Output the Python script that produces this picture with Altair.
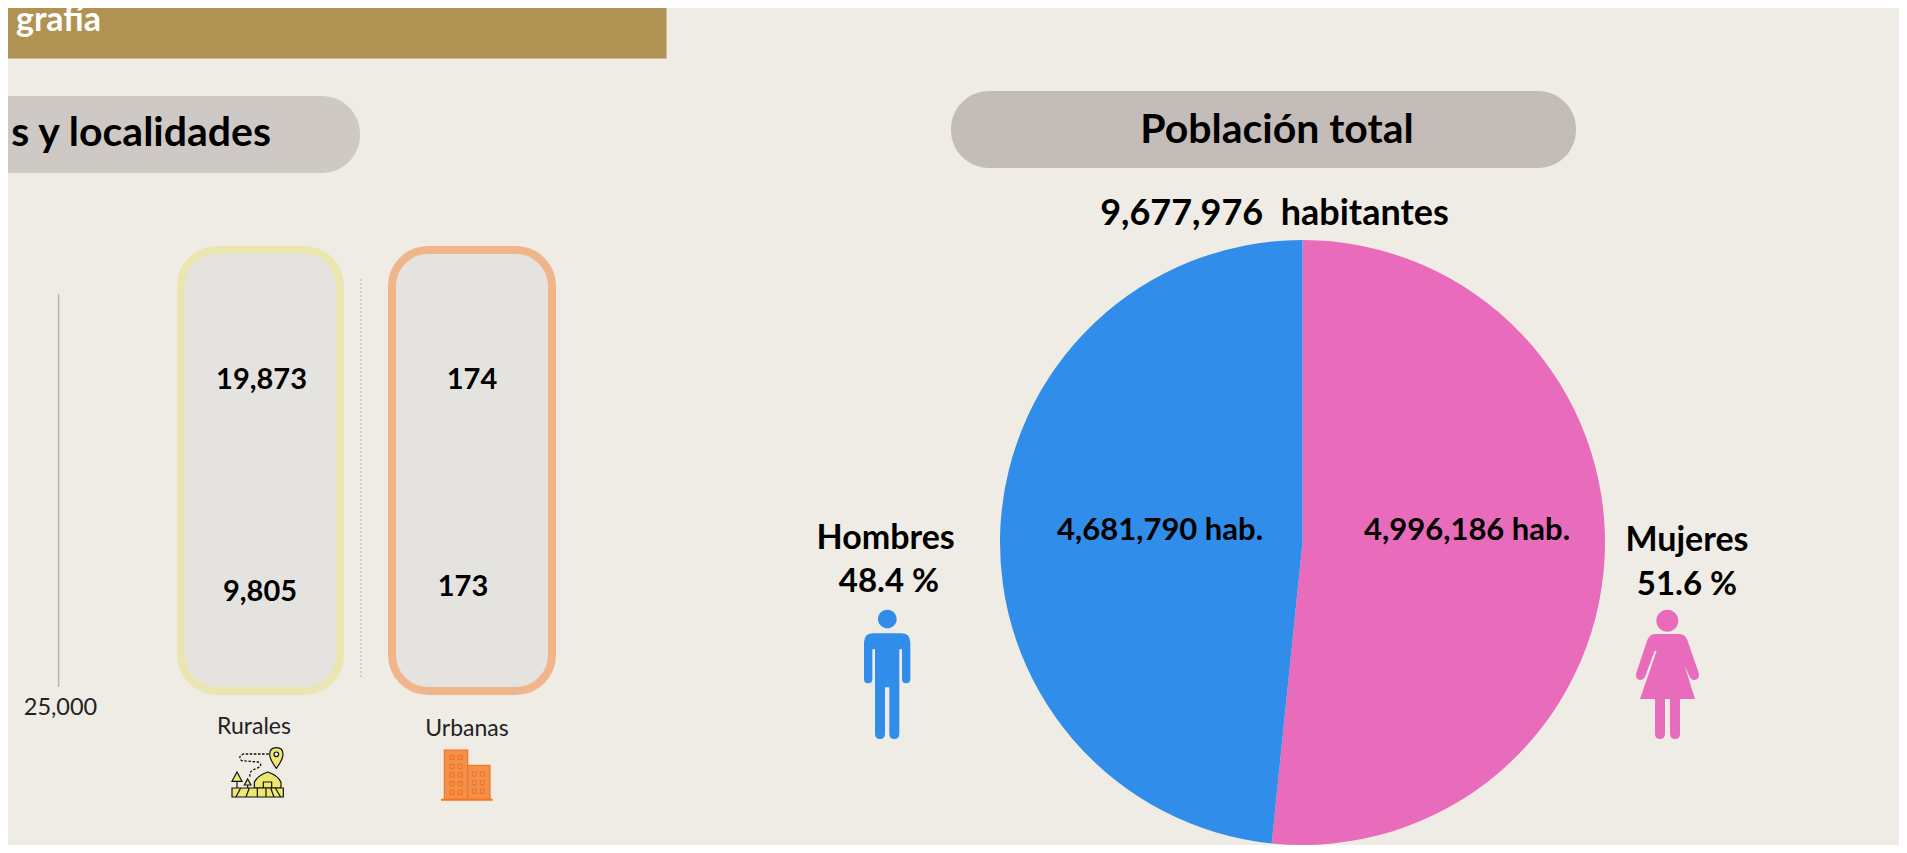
import altair as alt
import pandas as pd

# ---- data ----
generos = ["Mujeres", "Hombres"]
poblacion = [4996186, 4681790]
orden = [1, 2]
colores = ["#E96BBC", "#308DE9"]

W, H = 1891, 837
M = 8  # page margin: every position below is a page position, minus this
BG = "#EFECE5"
FONT = "Lato"


def path(cmds, cx, cy, h):
    """Normalise drawing commands to the [-1, 1] box that Vega custom symbols use."""
    out = []
    for c in cmds:
        op = c[0]
        if op == "Z":
            out.append("Z")
        elif op == "C":  # full circle: centre x, centre y, radius
            x, y, r = c[1:]
            X, Y, R = (x - cx) / h, (y - cy) / h, r / h
            out.append(f"M{X-R:.4f} {Y:.4f}A{R:.4f} {R:.4f} 0 1 0 {X+R:.4f} {Y:.4f}A{R:.4f} {R:.4f} 0 1 0 {X-R:.4f} {Y:.4f}Z")
        else:
            nums = []
            for i, v in enumerate(c[1:]):
                nums.append(f"{(v - (cx if i % 2 == 0 else cy)) / h:.4f}")
            out.append(op + " ".join(nums))
    return "".join(out)


def icon(cmds, cx, cy, h, ox, oy, scale=3, fill=None, stroke=None, sw=0, dash=None):
    L = 2 * h / scale
    kw = dict(shape=path(cmds, cx, cy, h), size=L * L, opacity=1)
    if fill:
        kw.update(filled=True, fill=fill)
    else:
        kw.update(filled=False, fill="transparent")
    if stroke:
        kw.update(stroke=stroke, strokeWidth=sw)
    else:
        kw.update(strokeWidth=0)
    if dash:
        kw.update(strokeDash=dash)
    return alt.Chart().mark_point(**kw).encode(
        x=alt.value(ox + cx / scale - M), y=alt.value(oy + cy / scale - M)
    )


def box(x, x2, y, y2, r=0, fill=None, stroke=None, sw=0):
    kw = dict(cornerRadius=r)
    if fill:
        kw["fill"] = fill
    else:
        kw["fillOpacity"] = 0
    if stroke:
        kw.update(stroke=stroke, strokeWidth=sw)
    return alt.Chart().mark_rect(**kw).encode(
        x=alt.value(x - M), x2=alt.value(x2 - M), y=alt.value(y - M), y2=alt.value(y2 - M)
    )


def label(t, x, y, size, bold=True, color="#000000", align="center"):
    return alt.Chart().mark_text(
        text=t, font=FONT, fontSize=size, fontWeight="bold" if bold else "normal",
        color=color, align=align, baseline="middle",
    ).encode(x=alt.value(x - M), y=alt.value(y - M))


layers = []
# banner and pills
layers.append(box(-20, 666.5, -20, 58.5, fill="#B09353"))
layers.append(box(-60, 360, 96, 173, r=38, fill="#CEC9C5"))
layers.append(box(951, 1576, 91, 168, r=38, fill="#C4BCB8"))
layers.append(label("grafía", 101, 21, 34, color="#FFFFFF", align="right"))
layers.append(label("s y localidades", 271, 134, 41, align="right"))
layers.append(label("Población total", 1277, 131, 41))

# locality panels
layers.append(alt.Chart().mark_rule(color="#B8B6B0", strokeWidth=1.5).encode(
    x=alt.value(58.6 - M), y=alt.value(294 - M), y2=alt.value(687 - M)))
layers.append(alt.Chart().mark_rule(color="#C9C7C3", strokeWidth=1.5, strokeDash=[2, 2]).encode(
    x=alt.value(361 - M), y=alt.value(279 - M), y2=alt.value(677 - M)))
layers.append(box(181, 340, 250, 691, r=36, fill="#E5E3DF", stroke="#E9E6B2", sw=8))
layers.append(box(392, 552, 250, 691, r=36, fill="#E5E3DF", stroke="#F0B58A", sw=8))
layers.append(label("25,000", 60.5, 708, 23.5, bold=False, color="#222222"))
layers.append(label("19,873", 261.5, 379.5, 29))
layers.append(label("174", 472, 379.5, 29))
layers.append(label("9,805", 260, 592, 29))
layers.append(label("173", 463, 587, 29))
layers.append(label("Rurales", 254, 727, 23, bold=False, color="#222222"))
layers.append(label("Urbanas", 467, 729, 23, bold=False, color="#222222"))

# rural icon
RX, RY, RH = 173, 217, 80
Y = "#EDE873"
K = "#111111"
rural_args = dict(cx=RX, cy=RY, h=RH, ox=200, oy=700)
layers.append(icon([("M", 229, 205), ("Q", 209, 178, 209, 163), ("Q", 209, 143, 229, 143),
                    ("Q", 249, 143, 249, 163), ("Q", 249, 178, 229, 205), ("Z",), ("C", 229, 163, 7)],
                   fill=Y, stroke=K, sw=1.2, **rural_args))
layers.append(icon([("M", 206, 162), ("L", 130, 162), ("Q", 112, 170, 125, 182), ("L", 175, 186),
                    ("Q", 192, 198, 168, 206), ("Q", 146, 212, 150, 230)],
                   stroke=K, sw=1.3, dash=[2.5, 1.6], **rural_args))
layers.append(icon([("M", 111, 216), ("L", 126, 244), ("L", 96, 244), ("Z",),
                    ("M", 143, 237), ("L", 153, 255), ("L", 133, 255), ("Z",)],
                   fill=Y, stroke=K, sw=1.2, **rural_args))
layers.append(icon([("M", 111, 244), ("L", 111, 264), ("M", 143, 255), ("L", 143, 264)],
                   stroke=K, sw=1.2, **rural_args))
layers.append(icon([("M", 163, 264), ("L", 163, 247), ("Q", 172, 227, 203, 216), ("Q", 235, 227, 243, 247),
                    ("L", 243, 264), ("Z",), ("M", 190, 264), ("L", 190, 246), ("L", 215, 246), ("L", 215, 264)],
                   fill=Y, stroke=K, sw=1.2, **rural_args))
layers.append(icon([("M", 96, 264), ("L", 250, 264), ("L", 250, 291), ("L", 96, 291), ("Z",),
                    ("M", 122, 264), ("L", 108, 291), ("M", 148, 264), ("L", 138, 291),
                    ("M", 172, 264), ("L", 172, 291), ("M", 198, 264), ("L", 198, 291),
                    ("M", 212, 264), ("L", 222, 291), ("M", 226, 264), ("L", 242, 291)],
                   fill=Y, stroke=K, sw=1.2, **rural_args))

# urban icon
OF, OS = "#F0914F", "#F97316"
urb = dict(cx=800, cy=226, h=80, ox=200, oy=700)
layers.append(icon([("M", 733, 150), ("L", 803, 150), ("L", 803, 298), ("L", 733, 298), ("Z",),
                    ("M", 803, 196), ("L", 870, 196), ("L", 870, 298), ("L", 803, 298), ("Z",)],
                   fill=OF, stroke=OS, sw=1.2, **urb))
win = []
for wx in (756, 781):
    for wy in (172, 199, 225, 251, 277):
        win += [("M", wx - 6, wy - 6), ("L", wx + 6, wy - 6), ("L", wx + 6, wy + 6), ("L", wx - 6, wy + 6), ("Z",)]
for wx in (823, 847):
    for wy in (222, 248, 274):
        win += [("M", wx - 6, wy - 6), ("L", wx + 6, wy - 6), ("L", wx + 6, wy + 6), ("L", wx - 6, wy + 6), ("Z",)]
layers.append(icon(win, stroke=OS, sw=1.1, **urb))
layers.append(icon([("M", 723, 296), ("L", 878, 296), ("L", 878, 302), ("L", 723, 302), ("Z",)], fill=OS, **urb))

# population pie
pie_df = pd.DataFrame({"genero": generos, "poblacion": poblacion, "orden": orden})
layers.append(alt.Chart(pie_df).mark_arc(radius=302.5).encode(
    x=alt.value(1302.5 - M), y=alt.value(542.5 - M),
    theta=alt.Theta("poblacion:Q", stack=True),
    order=alt.Order("orden:Q"),
    color=alt.Color("genero:N", scale=alt.Scale(domain=generos, range=colores), legend=None),
))
layers.append(label("9,677,976\u00a0\u00a0habitantes", 1274.5, 214, 36))
layers.append(label("4,681,790 hab.", 1160, 531, 31))
layers.append(label("4,996,186 hab.", 1467, 531, 31))
layers.append(label("Hombres", 885.6, 539, 34))
layers.append(label("48.4 %", 889, 582, 33))
layers.append(label("Mujeres", 1687, 541, 34))
layers.append(label("51.6 %", 1687, 585, 33))

# figures
man = [("C", 292, 387, 28),
       ("M", 222, 458), ("Q", 222, 430, 250, 430), ("L", 333, 430), ("Q", 361, 430, 361, 458),
       ("L", 361, 568), ("Q", 361, 580, 348.5, 580), ("Q", 336, 580, 336, 568), ("L", 336, 478), ("L", 328, 478),
       ("L", 328, 731), ("Q", 328, 747, 312, 747), ("Q", 298, 747, 298, 731), ("L", 298, 592), ("L", 285, 592),
       ("L", 285, 731), ("Q", 285, 747, 270, 747), ("Q", 255, 747, 255, 731), ("L", 255, 478), ("L", 247, 478),
       ("L", 247, 568), ("Q", 247, 580, 234.5, 580), ("Q", 222, 580, 222, 568), ("Z",)]
layers.append(icon(man, 292, 553, 194, 790, 490, fill=colores[1]))
woman = [("C", 232, 392, 33),
         ("M", 195, 432), ("L", 268, 432), ("Q", 285, 432, 292, 450), ("L", 326, 548), ("Q", 330, 568, 313, 570),
         ("Q", 303, 570, 298, 558), ("L", 264, 482), ("L", 270, 482), ("L", 315, 627), ("L", 270, 627),
         ("L", 270, 731), ("Q", 270, 747, 255, 747), ("Q", 240, 747, 240, 731), ("L", 240, 627), ("L", 225, 627),
         ("L", 225, 731), ("Q", 225, 747, 210, 747), ("Q", 195, 747, 195, 731), ("L", 195, 627), ("L", 150, 627),
         ("L", 200, 482), ("L", 194, 482), ("L", 166, 558), ("Q", 161, 570, 150, 570), ("Q", 135, 568, 139, 548),
         ("L", 172, 450), ("Q", 180, 432, 195, 432), ("Z",)]
layers.append(icon(woman, 232, 553, 194, 1590, 490, fill=colores[0]))

chart = alt.layer(*layers).properties(
    width=W, height=H, background=BG, padding=0,
    autosize=alt.AutoSizeParams(type="none"),
).configure_view(stroke=None)

chart.save("out.html", embed_options={"renderer": "svg", "actions": False})
